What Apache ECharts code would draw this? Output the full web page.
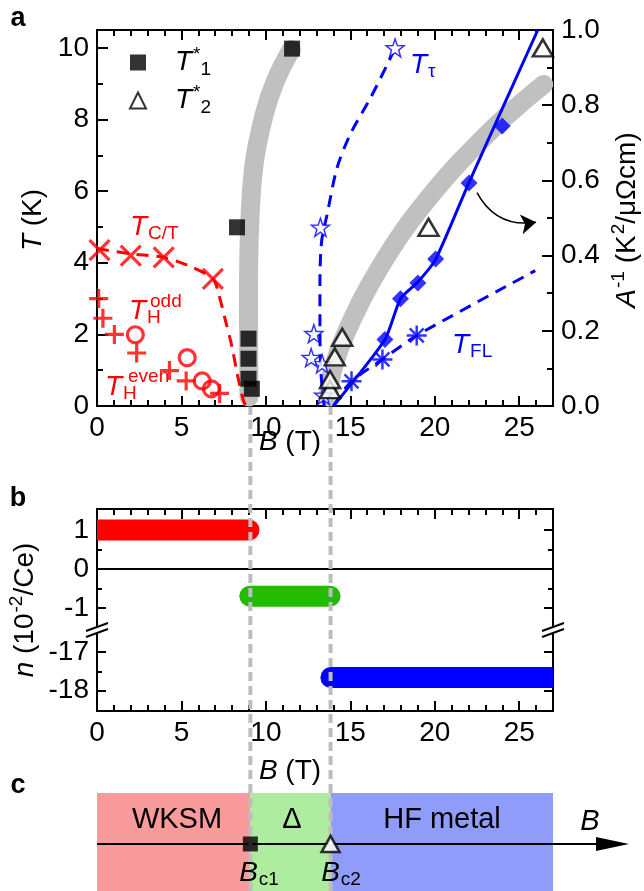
<!DOCTYPE html>
<html>
<head>
<meta charset="utf-8">
<script src="https://cdn.jsdelivr.net/npm/echarts@6/dist/echarts.min.js"></script>
<style>
  html, body { margin: 0; padding: 0; background: #fff; }
  #chart { width: 644px; height: 891px; }
</style>
</head>
<body>
<div id="chart"></div>
<script>
// ---- panel a : T (K) vs B (T) ----
const ctB = [0.15, 2.0, 3.95, 6.86];
const ctT = [4.35, 4.2, 4.15, 3.55];
const ctLineB = [0, 2.0, 3.95, 5.5, 6.86, 7.2, 7.6, 8.0, 8.3, 8.7, 8.95];
const ctLineT = [4.4, 4.25, 4.15, 3.9, 3.55, 3.13, 2.4, 1.64, 0.9, 0.11, -0.05];
const hEvenB = [0.1, 0.35, 1.03, 2.35, 4.29, 5.28, 7.26];
const hEvenT = [3.0, 2.45, 2.0, 1.48, 0.99, 0.7, 0.35];
const hOddB = [2.27, 5.34, 6.23, 6.77];
const hOddT = [1.99, 1.35, 0.7, 0.48];
const t1B = [8.97, 8.97, 8.97, 9.17, 8.29, 11.55];
const t1T = [1.88, 1.32, 0.76, 0.48, 4.99, 9.98];
const band1B = [9.0, 8.97, 9.03, 9.3, 9.9, 10.56, 11.5];
const band1T = [0.25, 3.0, 4.9, 6.75, 8.14, 9.07, 9.95];
const t2B = [13.8, 13.8, 14.08, 14.52, 19.63, 26.4];
const t2T = [0.46, 0.74, 1.37, 1.92, 4.99, 10.0];
const band2B = [13.7, 14.0, 14.8, 16.75, 19.5, 23.1, 26.45];
const band2T = [0.25, 1.09, 2.1, 3.87, 5.73, 7.59, 8.98];
const tauB = [13.42, 13.33, 12.68, 12.84, 13.23, 17.65];
const tauT = [0.3, 1.18, 1.35, 2.02, 4.99, 10.0];
const tauLineB = [13.45, 13.25, 13.2, 13.2, 13.3, 13.63, 14.22, 15.0, 16.2, 17.19, 17.5];
const tauLineT = [0, 1.0, 2.2, 3.4, 4.6, 5.36, 6.66, 7.59, 8.61, 9.54, 9.85];
const flB = [15.07, 16.9, 18.93];
const flT = [0.69, 1.3, 1.97];
const flLineB = [14.0, 15.07, 16.9, 18.93, 25.95];
const flLineT = [0.0, 0.69, 1.3, 1.97, 3.78];
const invAB = [17.05, 17.97, 19.0, 20.05, 22.03, 23.99];
const invA = [0.177, 0.285, 0.327, 0.391, 0.593, 0.745];
const invALineB = [14.0, 17.05, 17.97, 19.0, 20.05, 22.03, 26.1];
const invALine = [0.0, 0.177, 0.285, 0.33, 0.39, 0.595, 1.0];
const arrowB = [22.5, 26.0];
const arrowT = [5.96, 5.13];

// ---- panel b : carrier density n (10^-2/Ce) ----
const phaseStart = [0, 9.05, 13.85];
const phaseEnd = [9.0, 13.8, 27];
const phaseN = [1, -0.7, -17.66];
const nMajor = [1, 0, -1, -17, -18];
const nMinor = [0.5, -0.5, -17.5];
const breakN = -1.57;   // axis break sits between -1 and -17

// ---- panel c : phases ----
const bc = [9.08, 13.83];
const regionStart = [0, 9.08, 13.83];
const regionEnd = [9.08, 13.83, 27];
const fieldArrowEnd = 31.5;

const FONT = "'Liberation Sans', Arial, Helvetica, sans-serif";
const RED = '#ff0000', BLUE = '#0000ff';
const BMAX = 27;
const BREAK_SHIFT = 14.87;
const yb = n => (n < -5 ? n + BREAK_SHIFT : n);
const unb = v => (v < -1.5 ? Math.round(v - BREAK_SHIFT) : Math.round(v));
const pts = (xs, ys) => xs.map((x, i) => [x, ys[i]]);

const X_PATH = 'path://M0 0L10 10M10 0L0 10';
const PLUS_PATH = 'path://M5 0L5 10M0 5L10 5';
const AST_PATH = 'path://M5 0L5 10M0 5L10 5M1.5 1.5L8.5 8.5M8.5 1.5L1.5 8.5';
const STAR_PATH = 'path://M10 0L12.35 6.76L19.51 6.91L13.8 11.24L15.88 18.09L10 14L4.12 18.09L6.2 11.24L0.49 6.91L7.65 6.76Z';

const lineW = { color: '#000', width: 2 };
function xSet(gridIndex) {
  const base = { gridIndex, type: 'value', min: 0, max: BMAX, splitLine: { show: false } };
  return [
    { ...base, position: 'bottom', interval: 5, axisLine: { show: true, onZero: false, lineStyle: lineW },
      axisTick: { inside: true, length: 10, lineStyle: lineW },
      axisLabel: { fontSize: 28, fontFamily: FONT, color: '#000', margin: 8, showMaxLabel: false } },
    { ...base, position: 'bottom', interval: 1, axisLine: { show: false, onZero: false },
      axisTick: { inside: true, length: 6, lineStyle: lineW }, axisLabel: { show: false } },
    { ...base, position: 'top', interval: 5, axisLine: { show: true, onZero: false, lineStyle: lineW },
      axisTick: { inside: true, length: 10, lineStyle: lineW }, axisLabel: { show: false } },
    { ...base, position: 'top', interval: 1, axisLine: { show: false, onZero: false },
      axisTick: { inside: true, length: 6, lineStyle: lineW }, axisLabel: { show: false } }
  ];
}

const yAxes = [
  // panel a, left: T
  { gridIndex: 0, type: 'value', position: 'left', min: 0, max: 10.5, interval: 2,
    axisLine: { show: true, onZero: false, lineStyle: lineW }, axisTick: { inside: true, length: 11, lineStyle: lineW },
    axisLabel: { fontSize: 28, fontFamily: FONT, color: '#000', margin: 8, showMaxLabel: false },
    splitLine: { show: false } },
  { gridIndex: 0, type: 'value', position: 'left', min: 0, max: 10.5, interval: 1,
    axisLine: { show: false, onZero: false }, axisTick: { inside: true, length: 6, lineStyle: lineW },
    axisLabel: { show: false }, splitLine: { show: false } },
  // panel a, right: A^-1
  { gridIndex: 0, type: 'value', position: 'right', min: 0, max: 1, interval: 0.2,
    axisLine: { show: true, onZero: false, lineStyle: lineW }, axisTick: { inside: true, length: 11, lineStyle: lineW },
    axisLabel: { fontSize: 28, fontFamily: FONT, color: '#000', margin: 8, formatter: v => v.toFixed(1) },
    splitLine: { show: false } },
  { gridIndex: 0, type: 'value', position: 'right', min: 0, max: 1, interval: 0.1,
    axisLine: { show: false, onZero: false }, axisTick: { inside: true, length: 6, lineStyle: lineW },
    axisLabel: { show: false }, splitLine: { show: false } },
  // panel b, left
  { gridIndex: 1, type: 'value', position: 'left', min: -3.65, max: 1.54,
    axisLine: { show: true, onZero: false, lineStyle: lineW },
    axisTick: { inside: true, length: 9, lineStyle: lineW, customValues: nMajor.map(yb) },
    axisLabel: { fontSize: 28, fontFamily: FONT, color: '#000', margin: 8,
      customValues: nMajor.map(yb), formatter: v => String(unb(v)) },
    splitLine: { show: false } },
  { gridIndex: 1, type: 'value', position: 'left', min: -3.65, max: 1.54,
    axisLine: { show: false, onZero: false },
    axisTick: { inside: true, length: 5, lineStyle: lineW, customValues: nMinor.map(yb) },
    axisLabel: { show: false }, splitLine: { show: false } },
  // panel b, right
  { gridIndex: 1, type: 'value', position: 'right', min: -3.65, max: 1.54,
    axisLine: { show: true, onZero: false, lineStyle: lineW },
    axisTick: { inside: true, length: 9, lineStyle: lineW, customValues: nMajor.map(yb) },
    axisLabel: { show: false }, splitLine: { show: false } },
  { gridIndex: 1, type: 'value', position: 'right', min: -3.65, max: 1.54,
    axisLine: { show: false, onZero: false },
    axisTick: { inside: true, length: 5, lineStyle: lineW, customValues: nMinor.map(yb) },
    axisLabel: { show: false }, splitLine: { show: false } },
  // panel c and connector grid
  { gridIndex: 2, type: 'value', min: 0, max: 1, show: false },
  { gridIndex: 3, type: 'value', min: 0, max: 1, show: false }
];

function rich(color) {
  return {
    i: { fontStyle: 'italic', fontSize: 28, fontFamily: FONT, fill: color },
    sub: { fontSize: 19, fontFamily: FONT, fill: color, padding: [14, 0, 0, 1] },
    sup: { fontSize: 19, fontFamily: FONT, fill: color, padding: [0, 0, 16, 1] }
  };
}
function txt(x, y, text, o = {}) {
  const color = o.color || '#000';
  return {
    type: 'text', x, y, rotation: o.rotation || 0, z: 100, silent: true,
    style: {
      text, fill: color, fontSize: o.size || 28, fontFamily: FONT,
      fontWeight: o.weight || 'normal', fontStyle: o.italic ? 'italic' : 'normal',
      align: o.align || 'center', verticalAlign: 'middle', rich: rich(color)
    }
  };
}

const regionColors = ['#fa9b9b', '#aeeca0', '#8f9cfa'];
const phaseColors = [RED, '#22bb00', BLUE];
const boxed = { show: true, borderColor: '#000', borderWidth: 2, backgroundColor: 'transparent' };

const option = {
  animation: false,
  textStyle: { fontFamily: FONT, color: '#000' },
  grid: [
    { left: 97, top: 30, width: 456, height: 376, ...boxed },
    { left: 97, top: 509, width: 456, height: 202, ...boxed },
    { left: 97, top: 793, width: 456, height: 98 },
    { left: 97, top: 407, width: 456, height: 484 }
  ],
  xAxis: [
    ...xSet(0), ...xSet(1),
    { gridIndex: 2, type: 'value', min: 0, max: BMAX, show: false },
    { gridIndex: 3, type: 'value', min: 0, max: BMAX, show: false }
  ],
  yAxis: yAxes,
  legend: {
    data: ['T1', 'T2'], orient: 'vertical', left: 124, top: 40, selectedMode: false,
    itemWidth: 16, itemHeight: 16, itemGap: 4,
    formatter: n => (n === 'T1' ? '{i|T}{sup|*}{sub|1}' : '{i|T}{sup|*}{sub|2}'),
    textStyle: {
      color: '#000', padding: [0, 0, 0, 24],
      rich: {
        i: { fontStyle: 'italic', fontSize: 28, fontFamily: FONT, color: '#000' },
        sup: { fontSize: 19, fontFamily: FONT, color: '#000', padding: [0, 0, 16, 1] },
        sub: { fontSize: 19, fontFamily: FONT, color: '#000', padding: [14, 0, 0, 0] }
      }
    }
  },
  graphic: [
    txt(18, 19, 'a', { weight: 'bold', size: 27 }),
    txt(18, 499, 'b', { weight: 'bold', size: 27 }),
    txt(18, 786, 'c', { weight: 'bold', size: 27 }),
    txt(33, 220, '{i|T} (K)', { rotation: Math.PI / 2 }),
    txt(627, 220, '{i|A}{sup|-1} (K{sup|2}/μΩcm)', { rotation: Math.PI / 2 }),
    txt(290, 442, '{i|B} (T)'),
    txt(290, 771, '{i|B} (T)'),
    txt(25, 610, '{i|n} (10{sup|-2}/Ce)', { rotation: Math.PI / 2 }),
    txt(130, 227, '{i|T}{sub|C/T}', { color: RED, align: 'left' }),
    txt(129, 311, '{i|T}{sub|H}', { color: RED, align: 'left' }),
    txt(150, 302, 'odd', { color: RED, align: 'left', size: 19 }),
    txt(105, 387, '{i|T}{sub|H}', { color: RED, align: 'left' }),
    txt(128, 377, 'even', { color: RED, align: 'left', size: 19 }),
    txt(410, 65, '{i|T}{sub|τ}', { color: BLUE, align: 'left' }),
    txt(452, 345, '{i|T}{sub|FL}', { color: BLUE, align: 'left' }),
    txt(177, 820, 'WKSM', { size: 29 }),
    txt(292, 820, 'Δ', { size: 29 }),
    txt(442, 820, 'HF metal', { size: 29 }),
    txt(590, 822, 'B', { size: 29, italic: true }),
    txt(259, 873, '{i|B}{sub|c1}'),
    txt(341, 873, '{i|B}{sub|c2}')
  ],
  series: [
    // gray guide bands
    { type: 'line', xAxisIndex: 0, yAxisIndex: 0, data: pts(band1B, band1T), smooth: 0.4,
      symbol: 'none', silent: true, z: 1, lineStyle: { color: '#c0c0c0', width: 19, cap: 'round' } },
    { type: 'line', xAxisIndex: 0, yAxisIndex: 0, data: pts(band2B, band2T), smooth: 0.4,
      symbol: 'none', silent: true, z: 1, lineStyle: { color: '#c0c0c0', width: 19, cap: 'round' } },
    // dashed / solid guides
    { type: 'line', xAxisIndex: 0, yAxisIndex: 0, data: pts(ctLineB, ctLineT), smooth: 0.3,
      symbol: 'none', z: 2, lineStyle: { color: RED, width: 3, type: [12, 8] } },
    { type: 'line', xAxisIndex: 0, yAxisIndex: 0, data: pts(tauLineB, tauLineT), smooth: 0.3,
      symbol: 'none', z: 2, lineStyle: { color: BLUE, width: 3, type: [12, 8] } },
    { type: 'line', xAxisIndex: 0, yAxisIndex: 0, data: pts(flLineB, flLineT), smooth: 0.2,
      symbol: 'none', z: 2, lineStyle: { color: BLUE, width: 3, type: [12, 8] } },
    { type: 'line', xAxisIndex: 0, yAxisIndex: 2, data: pts(invALineB, invALine), smooth: 0.2,
      symbol: 'none', z: 2, lineStyle: { color: BLUE, width: 3 } },
    // markers
    { type: 'scatter', xAxisIndex: 0, yAxisIndex: 0, data: pts(ctB, ctT), symbol: X_PATH, symbolSize: 20,
      z: 3, itemStyle: { color: 'transparent', borderColor: RED, borderWidth: 3.2 } },
    { type: 'scatter', xAxisIndex: 0, yAxisIndex: 0, data: pts(hEvenB, hEvenT), symbol: PLUS_PATH, symbolSize: 19,
      z: 3, itemStyle: { color: 'transparent', borderColor: RED, borderWidth: 3.2 } },
    { type: 'scatter', xAxisIndex: 0, yAxisIndex: 0, data: pts(hOddB, hOddT), symbol: 'circle', symbolSize: 16,
      z: 3, itemStyle: { color: 'transparent', borderColor: RED, borderWidth: 3.2 } },
    { type: 'scatter', xAxisIndex: 0, yAxisIndex: 0, data: pts(tauB, tauT), symbol: STAR_PATH, symbolSize: 18,
      z: 3, itemStyle: { color: '#fff', borderColor: BLUE, borderWidth: 1.5 } },
    { type: 'scatter', xAxisIndex: 0, yAxisIndex: 0, data: pts(flB, flT), symbol: AST_PATH, symbolSize: 20,
      z: 3, itemStyle: { color: 'transparent', borderColor: BLUE, borderWidth: 2.5 } },
    { type: 'scatter', xAxisIndex: 0, yAxisIndex: 2, data: pts(invAB, invA), symbol: 'diamond', symbolSize: 17,
      z: 3, itemStyle: { color: BLUE } },
    { name: 'T1', type: 'scatter', xAxisIndex: 0, yAxisIndex: 0, data: pts(t1B, t1T), symbol: 'rect', symbolSize: 16,
      z: 4, itemStyle: { color: '#000' } },
    { name: 'T2', type: 'scatter', xAxisIndex: 0, yAxisIndex: 0, data: pts(t2B, t2T), symbol: 'triangle',
      symbolSize: [20, 17], z: 4, itemStyle: { color: '#fff', borderColor: '#000', borderWidth: 2.5 } },
    // curved arrow pointing to the right axis
    { type: 'lines', coordinateSystem: 'cartesian2d', xAxisIndex: 0, yAxisIndex: 0, z: 4,
      data: [{ coords: pts(arrowB, arrowT) }], symbol: ['none', 'arrow'], symbolSize: 15,
      lineStyle: { color: '#000', width: 1.5, curveness: -0.35, opacity: 1 } },

    // panel b: bars with rounded ends
    { type: 'custom', xAxisIndex: 4, yAxisIndex: 4, z: 2, clip: false,
      data: phaseStart.map((s, i) => [s, phaseEnd[i], yb(phaseN[i])]),
      renderItem: (params, api) => {
        const h = 21, r = h / 2;
        const s = api.value(0), e = api.value(1);
        const p0 = api.coord([s, api.value(2)]);
        const p1 = api.coord([e, api.value(2)]);
        const left = s > 0 ? p0[0] - r : p0[0];
        const right = e < BMAX ? p1[0] + r : p1[0];
        return { type: 'rect',
          shape: { x: left, y: p0[1] - r, width: right - left, height: h,
            r: [s > 0 ? r : 0, e < BMAX ? r : 0, e < BMAX ? r : 0, s > 0 ? r : 0] },
          style: { fill: phaseColors[params.dataIndex] } };
      },
      markLine: { silent: true, symbol: 'none', label: { show: false },
        lineStyle: { color: '#000', width: 2, type: 'solid' }, data: [{ yAxis: 0 }] } },
    // panel b: axis break marks
    { type: 'custom', xAxisIndex: 4, yAxisIndex: 4, z: 6, clip: false,
      data: [[0, breakN], [BMAX, breakN]],
      renderItem: (params, api) => {
        const p = api.coord([api.value(0), api.value(1)]);
        return { type: 'group', x: p[0], y: p[1], children: [
          { type: 'polygon', shape: { points: [[-11, 0], [11, -8], [11, -1], [-11, 7]] }, style: { fill: '#fff' } },
          { type: 'line', shape: { x1: -11, y1: 1, x2: 11, y2: -7 }, style: { stroke: '#000', lineWidth: 2 } },
          { type: 'line', shape: { x1: -11, y1: 7, x2: 11, y2: -1 }, style: { stroke: '#000', lineWidth: 2 } }
        ] };
      } },

    // panel c: phase regions
    { type: 'custom', xAxisIndex: 8, yAxisIndex: 8, z: 1, clip: false,
      data: regionStart.map((s, i) => [s, regionEnd[i]]),
      renderItem: (params, api) => {
        const p0 = api.coord([api.value(0), 1]);
        const p1 = api.coord([api.value(1), 0]);
        return { type: 'rect', shape: { x: p0[0], y: p0[1], width: p1[0] - p0[0], height: p1[1] - p0[1] },
          style: { fill: regionColors[params.dataIndex] } };
      } },
    // panel c: field axis arrow
    { type: 'custom', xAxisIndex: 8, yAxisIndex: 8, z: 3, clip: false, silent: true,
      data: [[0, fieldArrowEnd, 0.48]],
      renderItem: (params, api) => {
        const p0 = api.coord([api.value(0), api.value(2)]);
        const p1 = api.coord([api.value(1), api.value(2)]);
        return { type: 'group', children: [
          { type: 'line', shape: { x1: p0[0], y1: p0[1], x2: p1[0] - 30, y2: p1[1] },
            style: { stroke: '#000', lineWidth: 2 } },
          { type: 'polygon', shape: { points: [[p1[0], p1[1]], [p1[0] - 33, p1[1] - 7], [p1[0] - 33, p1[1] + 7]] },
            style: { fill: '#000' } }
        ] };
      } },
    // dashed connectors between panels
    ...bc.map(b => ({ type: 'line', xAxisIndex: 9, yAxisIndex: 9, z: 8, silent: true, symbol: 'none',
      data: [[b, 0], [b, 1]], lineStyle: { color: '#bdbdbd', width: 4, type: [9, 5] } })),
    // panel c: critical fields
    { type: 'scatter', xAxisIndex: 8, yAxisIndex: 8, z: 10, data: [[bc[0], 0.48]], symbol: 'rect',
      symbolSize: 15, itemStyle: { color: '#000' } },
    { type: 'scatter', xAxisIndex: 8, yAxisIndex: 8, z: 10, data: [[bc[1], 0.48]], symbol: 'triangle',
      symbolSize: [18, 16], itemStyle: { color: '#fff', borderColor: '#000', borderWidth: 2.5 } }
  ]
};

const chart = echarts.init(document.getElementById('chart'));
chart.setOption(option);
</script>
</body>
</html>
